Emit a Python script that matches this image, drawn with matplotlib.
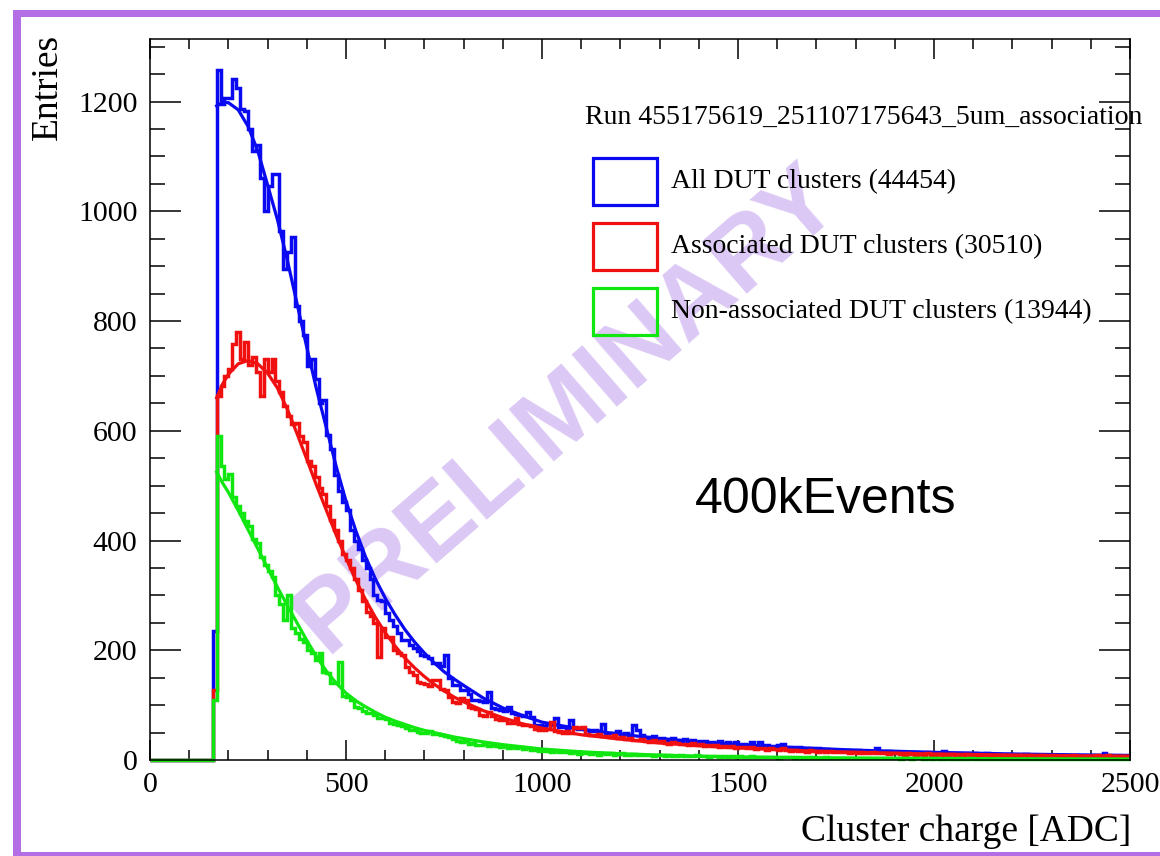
import numpy as np
import matplotlib
matplotlib.use("Agg")
import matplotlib.pyplot as plt
from matplotlib.patches import Rectangle
from matplotlib.ticker import MultipleLocator

# ---------------- data ----------------
BIN_WIDTH = 10
FIRST_BIN = 160          # first non-empty bin edge [ADC]
X_MAX = 2500

blue_counts = [
    235, 1257, 1196, 1207, 1207, 1242, 1224, 1187, 1183, 1150,
    1110, 1120, 1060, 1000, 1047, 1068, 1068, 964, 895, 926,
    953, 827, 800, 775, 718, 730, 694, 650, 657, 593,
    566, 520, 490, 470, 456, 420, 400, 385, 365, 350,
    330, 300, 292, 290, 268, 255, 245, 232, 219, 219,
    210, 204, 198, 192, 190, 185, 177, 177, 172, 192,
    150, 137, 137, 128, 128, 120, 110, 110, 108, 105,
    124, 95, 93, 92, 90, 97, 86, 84, 82, 80,
    88, 78, 64, 64, 62, 65, 64, 77, 60, 60,
    58, 72, 58, 56, 57, 55, 53, 54, 52, 66,
    50, 50, 49, 52, 48, 50, 46, 64, 55, 45,
    42, 40, 44, 38, 41, 38, 36, 40, 37, 35,
    38, 34, 36, 33, 35, 34, 31, 33, 31, 34,
    30, 32, 29, 33, 28, 30, 27, 33, 26, 32,
    25, 27, 24, 26, 28, 30, 22, 24, 21, 23,
    22, 20, 21, 19, 22, 18, 20, 19, 17, 19,
    18, 17, 19, 16, 18, 15, 17, 16, 15, 21,
    15, 14, 16, 13, 15, 14, 13, 15, 12, 14,
    13, 12, 14, 13, 11, 12, 16, 12, 11, 13,
    12, 11, 13, 10, 12, 11, 10, 12, 11, 10,
    11, 10, 9, 11, 10, 9, 10, 11, 9, 10,
    9, 10, 8, 9, 10, 9, 8, 9, 10, 8,
    9, 8, 9, 8, 10, 8, 9, 12, 8, 9,
    8, 9, 8, 9,
]

red_counts = [
    128, 663, 682, 700, 712, 758, 780, 730, 761, 720,
    734, 707, 663, 730, 707, 730, 690, 670, 645, 627,
    612, 615, 590, 580, 545, 536, 515, 495, 485, 462,
    438, 420, 400, 375, 365, 350, 330, 310, 290, 270,
    262, 250, 188, 240, 225, 225, 200, 195, 192, 170,
    160, 155, 142, 140, 138, 135, 146, 146, 130, 128,
    115, 106, 104, 113, 110, 96, 95, 93, 82, 80,
    88, 80, 74, 73, 72, 68, 67, 76, 66, 64,
    63, 62, 56, 55, 54, 56, 70, 53, 51, 50,
    52, 49, 60, 58, 60, 48, 46, 45, 47, 44,
    43, 42, 46, 40, 42, 38, 40, 37, 36, 38,
    35, 33, 36, 32, 34, 31, 30, 33, 31, 29,
    30, 28, 31, 27, 29, 26, 28, 25, 27, 24,
    25, 23, 26, 22, 24, 23, 21, 24, 20, 22,
    21, 19, 22, 20, 18, 21, 19, 17, 18, 16,
    17, 15, 18, 16, 14, 16, 15, 17, 14, 15,
    14, 15, 13, 14, 12, 14, 13, 12, 14, 12,
    12, 13, 11, 12, 13, 11, 10, 12, 11, 10,
    11, 10, 12, 10, 9, 11, 10, 9, 11, 10,
    9, 10, 11, 9, 8, 10, 9, 10, 8, 9,
    10, 8, 9, 8, 9, 8, 10, 8, 9, 8,
    8, 9, 7, 8, 9, 7, 8, 7, 8, 9,
    7, 8, 7, 8, 7, 9, 7, 8, 10, 7,
    8, 7, 8, 7,
]

green_counts = [
    110, 590, 535, 512, 521, 480, 462, 451, 435, 426,
    402, 395, 370, 355, 345, 334, 300, 285, 255, 300,
    240, 232, 220, 215, 201, 195, 183, 195, 160, 158,
    141, 141, 179, 117, 115, 110, 96, 95, 90, 86,
    86, 82, 77, 77, 74, 68, 66, 64, 62, 58,
    55, 54, 51, 50, 49, 52, 48, 47, 45, 44,
    42, 38, 34, 33, 34, 30, 31, 28, 27, 29,
    26, 27, 25, 24, 26, 22, 23, 21, 24, 20,
    22, 19, 18, 17, 16, 17, 15, 16, 14, 15,
    14, 12, 14, 11, 13, 12, 11, 13, 10, 12,
    11, 12, 10, 11, 13, 10, 9, 11, 10, 9,
    10, 9, 8, 10, 9, 8, 9, 7, 8, 9,
    8, 7, 8, 9, 7, 8, 6, 7, 8, 6,
    7, 6, 7, 6, 8, 5, 6, 7, 5, 6,
    5, 6, 5, 6, 4, 5, 6, 5, 4, 5,
    4, 5, 4, 5, 4, 3, 5, 4, 4, 3,
    4, 4, 3, 4, 3, 4, 3, 3, 4, 3,
    3, 3, 4, 3, 3, 2, 3, 3, 2, 3,
    3, 2, 3, 2, 3, 2, 2, 3, 2, 2,
    3, 2, 2, 3, 2, 2, 2, 1, 2, 2,
    2, 2, 1, 2, 2, 1, 2, 2, 1, 2,
    1, 2, 1, 1, 2, 1, 1, 2, 1, 1,
    1, 1, 2, 1, 1, 1, 2, 1, 1, 1,
    1, 1, 1, 1,
]

# fitted curves
fit_x = [170, 185, 200, 225, 250, 275, 300, 325, 350, 375, 400, 425, 450, 475,
         500, 525, 550, 575, 600, 625, 650, 675, 700, 725, 750, 775, 800, 850,
         900, 950, 1000, 1100, 1200, 1300, 1400, 1500, 1600, 1700, 1800, 1900,
         2000, 2200, 2400, 2500]
blue_fit = [1192, 1198, 1198, 1185, 1155, 1110, 1048, 985, 912, 832, 752, 675,
            605, 535, 472, 418, 370, 330, 295, 265, 238, 215, 195, 177, 161,
            148, 136, 113, 95, 81, 69, 56, 47, 39, 33, 28, 24, 21, 18, 16, 14,
            11, 9, 8]
red_fit = [660, 685, 703, 722, 728, 722, 705, 678, 640, 595, 548, 500, 455, 410,
           368, 328, 292, 260, 232, 208, 186, 168, 152, 138, 126, 115, 106, 90,
           77, 66, 58, 46, 38, 31, 26, 22, 19, 16, 14, 12.5, 11, 9, 7.5, 7]
green_fit = [525, 505, 488, 455, 420, 385, 350, 315, 282, 250, 218, 188, 162,
             140, 122, 108, 97, 87, 78, 71, 65, 59, 54, 50, 46, 42, 39, 33, 28,
             24, 20, 15, 11.5, 9, 7, 5.5, 4.8, 4.2, 3.6, 3.1, 2.7, 2.2, 1.8, 1.6]

series_labels = ["All DUT clusters (44454)",
                 "Associated DUT clusters (30510)",
                 "Non-associated DUT clusters (13944)"]
series_colors = ["#0a0af0", "#f01010", "#10e610"]
legend_title = "Run 455175619_251107175643_5um_association"
x_label = "Cluster charge [ADC]"
y_label = "Entries"
note_text = "400kEvents"
watermark = "PRELIMINARY"

# ---------------- figure ----------------
W, H = 1160, 856
fig = plt.figure(figsize=(W / 100, H / 100), dpi=100)
fig.patch.set_facecolor("white")

def fx(px):
    return px / W

def fy(py):
    return 1 - py / H

ax_l, ax_r, ax_t, ax_b = 150, 1130, 39, 760
ax = fig.add_axes([fx(ax_l), fy(ax_b), (ax_r - ax_l) / W, (ax_b - ax_t) / H])

serif = ["Liberation Serif", "DejaVu Serif"]
sans = ["Liberation Sans", "DejaVu Sans"]

n_empty = FIRST_BIN // BIN_WIDTH
edges = np.arange(0, X_MAX + BIN_WIDTH, BIN_WIDTH)
hists = [blue_counts, red_counts, green_counts]
fits = [blue_fit, red_fit, green_fit]

for counts, fit, col in zip(hists, fits, series_colors):
    vals = np.concatenate([np.zeros(n_empty), np.asarray(counts, float)])
    ax.stairs(vals, edges, baseline=None, color=col, linewidth=2.5, zorder=3,
              clip_on=False)
    ax.plot(fit_x, fit, color=col, linewidth=2.3, zorder=3,
            solid_joinstyle="round")

ax.set_xlim(0, X_MAX)
ax.set_ylim(0, 1314)

ax.xaxis.set_major_locator(MultipleLocator(500))
ax.xaxis.set_minor_locator(MultipleLocator(100))
ax.yaxis.set_major_locator(MultipleLocator(200))
ax.yaxis.set_minor_locator(MultipleLocator(50))
ax.tick_params(which="both", direction="in", top=True, right=True,
               width=1.1, colors="black")
ax.tick_params(axis="x", which="major", length=14.5, pad=8.5, labelsize=21.5)
ax.tick_params(axis="x", which="minor", length=7)
ax.tick_params(axis="y", which="major", length=22, pad=9, labelsize=21.5)
ax.tick_params(axis="y", which="minor", length=11)
for lab in ax.get_xticklabels() + ax.get_yticklabels():
    lab.set_fontfamily(serif)
for sp in ax.spines.values():
    sp.set_linewidth(1.1)
    sp.set_zorder(4)

# axis titles
fig.text(fx(48), fy(34), y_label, rotation=90, ha="center", va="top",
         fontsize=27, family=serif)
fig.text(fx(1131), fy(832), x_label, ha="right", va="center",
         fontsize=27, family=serif)

# legend (ROOT style boxes)
fig.text(fx(585), fy(117), legend_title, ha="left", va="center",
         fontsize=20, family=serif)
box_tops = [158, 223, 288]
for top, lab, col in zip(box_tops, series_labels, series_colors):
    fig.add_artist(Rectangle((fx(593), fy(top + 47)), 64 / W, 47 / H,
                             transform=fig.transFigure, fill=False,
                             edgecolor=col, linewidth=2.3))
    fig.text(fx(671), fy(top + 24), lab, ha="left", va="center",
             fontsize=20, family=serif)

# annotation
fig.text(fx(826), fy(500), note_text, ha="center", va="center",
         fontsize=36, family=sans)

# watermark (under the histograms)
ax.text(fx(568), fy(410), watermark, transform=fig.transFigure,
        rotation=41, ha="center", va="center", fontsize=72,
        fontweight="bold", family=sans, color="#dcc8f5", zorder=1,
        clip_on=False)

# purple frame
frame_col = "#b36ee6"
fig.add_artist(Rectangle((fx(13), fy(17)), 1 - fx(13), 7 / H,
                         transform=fig.transFigure, color=frame_col, lw=0))
fig.add_artist(Rectangle((fx(13), 0), 8 / W, fy(10),
                         transform=fig.transFigure, color=frame_col, lw=0))
fig.add_artist(Rectangle((fx(13), 0), 1 - fx(13), 4 / H,
                         transform=fig.transFigure, color=frame_col, lw=0))

fig.savefig("out.png", dpi=100)
